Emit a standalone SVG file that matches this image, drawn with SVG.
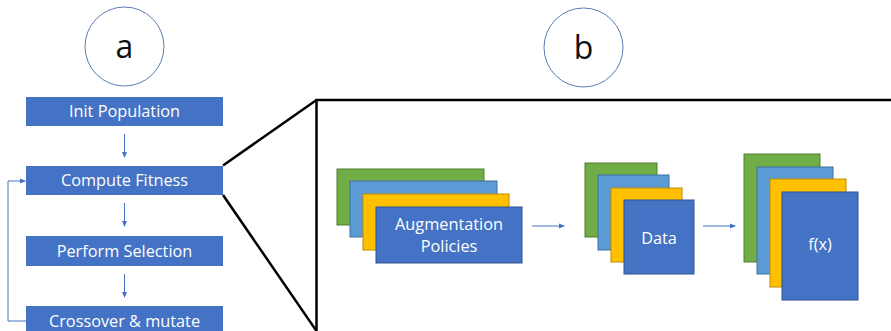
<svg xmlns="http://www.w3.org/2000/svg" width="891" height="331" viewBox="0 0 891 331">
<defs>
<style>
.step{fill:#4472C4}
.lbl{font-family:"Open Sans","Noto Sans",sans-serif;font-size:16.3px;fill:#ffffff;text-anchor:middle}
.circ{fill:#ffffff;stroke:#5A7DB5;stroke-width:1}
.big{font-family:"Open Sans","Noto Sans",sans-serif;font-size:32px;fill:#111111;text-anchor:middle}
.conn{stroke:#4472C4;stroke-width:1;fill:none}
.g{fill:#70AD47;stroke:#507E32;stroke-width:1}
.lb{fill:#5B9BD5;stroke:#41719C;stroke-width:1}
.y{fill:#FFC000;stroke:#BC8C00;stroke-width:1}
.d{fill:#4472C4;stroke:#2F528F;stroke-width:1}
.zoom{stroke:#000000;stroke-width:2.5;fill:none}
</style>
<marker id="ah" markerWidth="6" markerHeight="6" refX="5" refY="3" orient="auto" markerUnits="userSpaceOnUse">
<path d="M0,0.5 L6,3 L0,5.5 z" fill="#4472C4"/>
</marker>
</defs>
<rect width="891" height="331" fill="#ffffff"/>

<g id="label-a">
<circle class="circ" cx="124.5" cy="46.5" r="39.5"/>
<text class="big" x="124.5" y="58">a</text>
</g>
<g id="label-b">
<circle class="circ" cx="583.5" cy="47.5" r="39.5"/>
<text class="big" x="583.5" y="59">b</text>
</g>

<g id="zoom-box">
<path class="zoom" d="M891,100 L316.5,100 L316.5,331"/>
<line class="zoom" x1="223" y1="165.5" x2="316.5" y2="100"/>
<line class="zoom" x1="223" y1="195" x2="316.5" y2="331"/>
</g>

<g id="init-population">
<rect class="step" x="26" y="97" width="197" height="29"/>
<text class="lbl" x="124.5" y="117">Init Population</text>
</g>
<g id="compute-fitness">
<rect class="step" x="26" y="166" width="197" height="29"/>
<text class="lbl" x="124.5" y="186">Compute Fitness</text>
</g>
<g id="perform-selection">
<rect class="step" x="26" y="236" width="197" height="30"/>
<text class="lbl" x="124.5" y="256.5">Perform Selection</text>
</g>
<g id="crossover-mutate">
<rect class="step" x="26" y="306" width="197" height="30"/>
<text class="lbl" x="124.5" y="326.5">Crossover &amp; mutate</text>
</g>

<g id="augmentation-policies">
<rect class="g" x="337" y="169" width="147" height="56"/>
<rect class="lb" x="350" y="181" width="147" height="56"/>
<rect class="y" x="363" y="194" width="146" height="56"/>
<rect class="d" x="376" y="207" width="146" height="56"/>
<text class="lbl" x="449" y="229.5">Augmentation</text>
<text class="lbl" x="449" y="251.5">Policies</text>
</g>
<g id="data">
<rect class="g" x="585" y="163" width="72" height="74"/>
<rect class="lb" x="598" y="175" width="71" height="75"/>
<rect class="y" x="611" y="188" width="71" height="74"/>
<rect class="d" x="624" y="200" width="70" height="74"/>
<text class="lbl" x="659" y="244">Data</text>
</g>
<g id="fx">
<rect class="g" x="744" y="154" width="76" height="108"/>
<rect class="lb" x="757" y="167" width="76" height="107"/>
<rect class="y" x="770" y="179" width="76" height="108"/>
<rect class="d" x="782" y="192" width="76" height="108"/>
<text class="lbl" x="820" y="250">f(x)</text>
</g>

<g id="connectors">
<line class="conn" x1="124.5" y1="134" x2="124.5" y2="157" marker-end="url(#ah)"/>
<line class="conn" x1="124.5" y1="203" x2="124.5" y2="226" marker-end="url(#ah)"/>
<line class="conn" x1="124.5" y1="274" x2="124.5" y2="297" marker-end="url(#ah)"/>
<polyline class="conn" points="26,321 8,321 8,181 25,181" marker-end="url(#ah)"/>
<line class="conn" x1="532" y1="226" x2="564" y2="226" marker-end="url(#ah)"/>
<line class="conn" x1="703" y1="226" x2="735" y2="226" marker-end="url(#ah)"/>
</g>
</svg>
